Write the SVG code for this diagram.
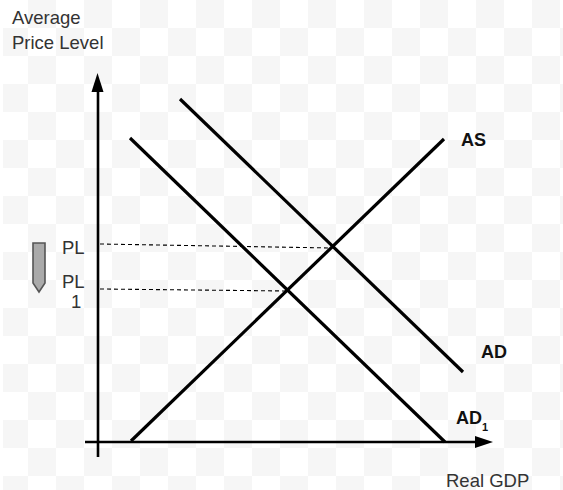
<svg xmlns="http://www.w3.org/2000/svg" width="563" height="490" viewBox="0 0 563 490">
  <style>
    .lbl { font-family: "Liberation Sans", Arial, sans-serif; font-size: 18.5px; fill: #333; }
    .curve-lbl { font-family: "Liberation Sans", Arial, sans-serif; font-size: 18px; font-weight: bold; fill: #111; }
    .curve { stroke: #000; stroke-width: 3.2; fill: none; stroke-linecap: butt; }
    .axis { stroke: #000; stroke-width: 2.6; fill: none; }
    .dash { stroke: #000; stroke-width: 1.1; stroke-dasharray: 4 3; fill: none; }
  </style>
  <defs>
    <pattern id="checker" x="0" y="0" width="56" height="56" patternUnits="userSpaceOnUse">
      <rect x="28" y="0" width="28" height="28" fill="#f6f6f6"/>
      <rect x="0" y="28" width="28" height="28" fill="#f6f6f6"/>
    </pattern>
  </defs>
  <rect width="563" height="490" fill="#fff"/>
  <rect x="3" width="560" height="490" fill="url(#checker)"/>

  <g id="axes">
    <line class="axis" x1="98" y1="457" x2="98" y2="88"/>
    <polygon points="97.5,73 91.5,92 103.5,92" fill="#000"/>
    <line class="axis" x1="85" y1="442" x2="478" y2="442"/>
    <polygon points="493,442 475,436 475,448" fill="#000"/>
  </g>

  <g id="connectors">
    <line class="dash" x1="100" y1="244" x2="332" y2="248"/>
    <line class="dash" x1="100" y1="289" x2="287" y2="291"/>
  </g>

  <g id="AS">
    <line class="curve" x1="131" y1="441" x2="444" y2="139"/>
    <text class="curve-lbl" x="461" y="146">AS</text>
  </g>
  <g id="AD">
    <line class="curve" x1="180" y1="99" x2="463" y2="372"/>
    <text class="curve-lbl" x="481" y="358">AD</text>
  </g>
  <g id="AD1">
    <line class="curve" x1="130" y1="138" x2="445" y2="442"/>
    <text class="curve-lbl" x="456" y="424">AD<tspan font-size="11" dy="7">1</tspan></text>
  </g>

  <g id="y-label">
    <text class="lbl" x="12" y="24">Average</text>
    <text class="lbl" x="12" y="49">Price Level</text>
  </g>
  <g id="x-label">
    <text class="lbl" x="446" y="487">Real GDP</text>
  </g>
  <g id="PL">
    <text class="lbl" x="62" y="254">PL</text>
  </g>
  <g id="PL1">
    <text class="lbl" x="62" y="288">PL</text>
    <text class="lbl" x="71" y="308">1</text>
  </g>
  <g id="down-arrow">
    <path d="M33,243 H45 V283 L39,292 L33,283 Z" fill="#aaa" stroke="#555" stroke-width="1.6" stroke-linejoin="miter"/>
  </g>
</svg>
